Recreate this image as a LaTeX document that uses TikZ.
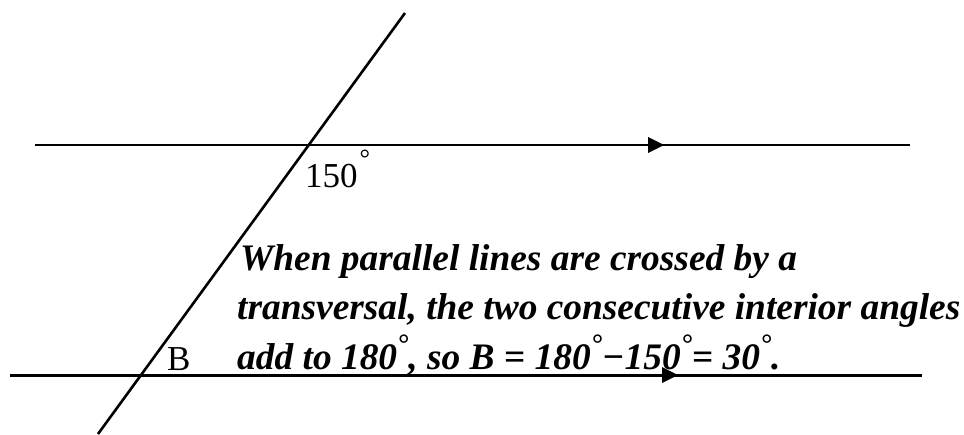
\documentclass[tikz,border=0pt]{standalone}
\usepackage{fontspec}
\setmainfont{Liberation Serif}
\newcommand{\degup}[1][0.42em]{\raisebox{#1}{\scalebox{0.75}{°}}}
\begin{document}
\begin{tikzpicture}[x=1pt,y=-1pt]
\useasboundingbox (0,0) rectangle (964,434);
\tikzset{
  ln/.style={line width=2.6pt},
  lbl/.style={font=\fontsize{35}{40}\selectfont, inner sep=0pt, anchor=base west},
  expl/.style={font=\fontsize{37.4}{44}\selectfont\bfseries\itshape, inner sep=0pt, anchor=base west}
}
% parallel lines
\coordinate (t1) at (35,145); \coordinate (t2) at (910,145);
\coordinate (b1) at (10,375); \coordinate (b2) at (922,375);
\draw[ln] (t1) -- (t2);
\draw[line width=3pt] (b1) -- (b2);
\fill (648,137) -- (664,145) -- (648,153) -- cycle;
\fill (662,367) -- (678,375) -- (662,383) -- cycle;
% transversal
\coordinate (s1) at (405,13); \coordinate (s2) at (98,434);
\draw[ln] (s1) -- (s2);
% labels
\node[lbl] (a150) at (305,187) {150\hspace{2pt}\degup[0.55em]};
\node[lbl] (bl) at (167,370) {B};
\node[expl] (l1) at (240,270) {When parallel lines are crossed by a};
\node[expl] (l2) at (237,319) {transversal, the two consecutive interior angles};
\node[expl] (l3) at (237,369) {add to 180\degup, so B = 180\degup−150\degup= 30\degup.};
\end{tikzpicture}
\end{document}
